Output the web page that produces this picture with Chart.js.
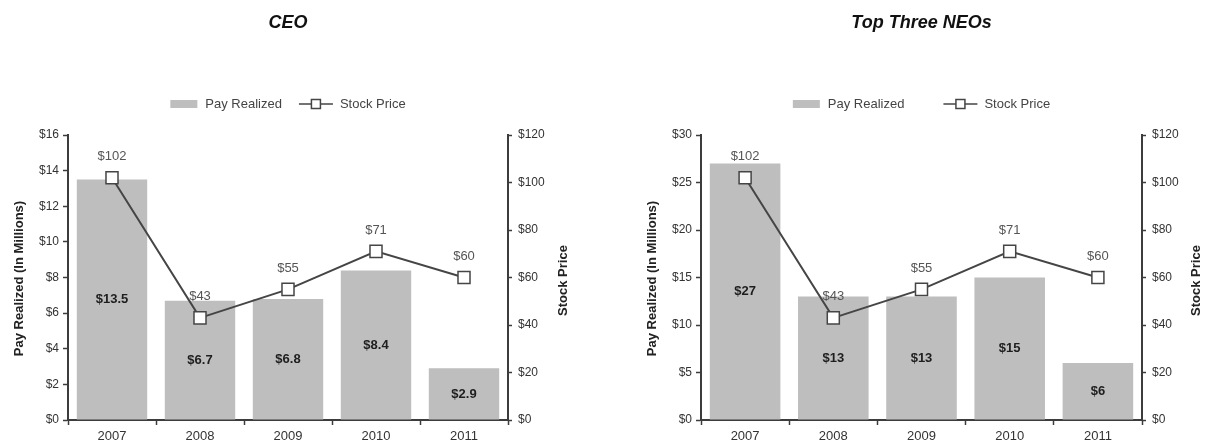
<!DOCTYPE html>
<html>
<head>
<meta charset="utf-8">
<script src="https://cdn.jsdelivr.net/npm/chart.js@4.4.1/dist/chart.umd.min.js"></script>
<style>
  html, body { margin: 0; padding: 0; background: #fff; }
  #wrap { position: relative; width: 1205px; height: 444px; }
  #ceoChart { position: absolute; left: 0; top: 0; }
  #neoChart { position: absolute; left: 600px; top: 0; }
</style>
</head>
<body>
<div id="wrap">
  <canvas id="ceoChart" width="600" height="444"></canvas>
  <canvas id="neoChart" width="605" height="444"></canvas>
</div>
<script>
const years = ['2007', '2008', '2009', '2010', '2011'];
const ceoPay = [13.5, 6.7, 6.8, 8.4, 2.9];
const neoPay = [27, 13, 13, 15, 6];
const stockPrice = [102, 43, 55, 71, 60];

const ceoPayMax = 16, ceoPayStep = 2;
const neoPayMax = 30, neoPayStep = 5;
const priceMax = 120, priceStep = 20;

const FONT = '"Liberation Sans", Arial, Helvetica, sans-serif';
const BAR = '#bebebe';
const LINE = '#454545';
const AXIS = '#3c3c3c';

Chart.defaults.font.family = FONT;
Chart.defaults.color = '#333';

const money = v => '$' + v;

// titles, legend, axis titles and value labels
const decor = {
    id: 'decor',
    afterDatasetsDraw(chart) {
        const ctx = chart.ctx;
        ctx.save();
        ctx.textAlign = 'center';
        ctx.textBaseline = 'middle';

        const bars = chart.getDatasetMeta(0);
        ctx.font = 'bold 13px ' + FONT;
        ctx.fillStyle = '#1e1e1e';
        bars.data.forEach((el, i) => {
            const v = chart.data.datasets[0].data[i];
            ctx.fillText(money(v), el.x, (el.y + el.base) / 2);
        });

        const line = chart.getDatasetMeta(1);
        ctx.font = '13px ' + FONT;
        ctx.fillStyle = '#555';
        line.data.forEach((el, i) => {
            const v = chart.data.datasets[1].data[i];
            ctx.fillText(money(v), el.x, el.y - 21);
        });
        ctx.restore();
    },
    afterDraw(chart, args, opts) {
        const { ctx, chartArea: area, width } = chart;
        const midX = (area.left + area.right) / 2;
        const midY = (area.top + area.bottom) / 2;
        ctx.save();
        ctx.textBaseline = 'middle';

        // chart title
        ctx.textAlign = 'center';
        ctx.fillStyle = '#111';
        ctx.font = 'italic bold 18px ' + FONT;
        ctx.fillText(opts.title, midX, 23);

        // legend
        ctx.font = '13px ' + FONT;
        const t1 = 'Pay Realized', t2 = 'Stock Price';
        const w1 = ctx.measureText(t1).width, w2 = ctx.measureText(t2).width;
        const total = 27 + 8 + w1 + opts.legendGap + 34 + 7 + w2;
        let x = midX - total / 2;
        const ly = 104;
        ctx.fillStyle = BAR;
        ctx.fillRect(x, ly - 4, 27, 8);
        x += 35;
        ctx.fillStyle = '#444';
        ctx.textAlign = 'left';
        ctx.fillText(t1, x, ly);
        x += w1 + opts.legendGap;
        ctx.strokeStyle = LINE;
        ctx.lineWidth = 1.5;
        ctx.beginPath();
        ctx.moveTo(x, ly);
        ctx.lineTo(x + 34, ly);
        ctx.stroke();
        ctx.fillStyle = '#fff';
        ctx.fillRect(x + 12.5, ly - 4.5, 9, 9);
        ctx.strokeRect(x + 12.5, ly - 4.5, 9, 9);
        x += 41;
        ctx.fillStyle = '#444';
        ctx.fillText(t2, x, ly);

        // axis titles
        ctx.font = 'bold 13px ' + FONT;
        ctx.fillStyle = '#222';
        ctx.textAlign = 'center';
        ctx.save();
        ctx.translate(opts.leftTitleX, midY + 1);
        ctx.rotate(-Math.PI / 2);
        ctx.fillText('Pay Realized (In Millions)', 0, 0);
        ctx.restore();
        ctx.save();
        ctx.translate(width - opts.rightTitleInset, midY + 3);
        ctx.rotate(-Math.PI / 2);
        ctx.fillText('Stock Price', 0, 0);
        ctx.restore();

        ctx.restore();
    }
};

const makeChart = (id, title, pay, payMax, payStep, dims) => {
    const axisGrid = {
        drawOnChartArea: false,
        drawTicks: true,
        tickLength: 5,
        tickColor: AXIS,
        tickWidth: 1.5
    };
    const border = { display: true, color: AXIS, width: 2 };

    return new Chart(document.getElementById(id), {
        data: {
            labels: years,
            datasets: [
                {
                    type: 'bar',
                    label: 'Pay Realized',
                    data: pay,
                    yAxisID: 'y',
                    backgroundColor: BAR,
                    borderWidth: 0,
                    barPercentage: 0.8,
                    categoryPercentage: 1.0,
                    order: 1
                },
                {
                    type: 'line',
                    label: 'Stock Price',
                    data: stockPrice,
                    yAxisID: 'y1',
                    borderColor: LINE,
                    borderWidth: 2,
                    tension: 0,
                    pointStyle: 'rect',
                    pointRadius: 8.5,
                    pointBackgroundColor: '#fff',
                    pointBorderColor: LINE,
                    pointBorderWidth: 1.5,
                    order: 0
                }
            ]
        },
        options: {
            responsive: false,
            animation: false,
            layout: { padding: { top: 135, bottom: 0, left: 0, right: 0 } },
            plugins: {
                legend: { display: false },
                title: { display: false },
                tooltip: { enabled: false },
                decor: {
                    title,
                    legendGap: dims.legendGap,
                    leftTitleX: dims.leftTitleX,
                    rightTitleInset: dims.rightTitleInset
                }
            },
            scales: {
                x: {
                    offset: true,
                    grid: { ...axisGrid, offset: true },
                    border,
                    ticks: { font: { size: 13 }, color: '#333', padding: 4 },
                    afterFit(scale) { scale.height = 24; }
                },
                y: {
                    position: 'left',
                    min: 0,
                    max: payMax,
                    grid: axisGrid,
                    border,
                    ticks: { stepSize: payStep, callback: money, font: { size: 12 }, color: '#333', padding: 4 },
                    afterFit(scale) { scale.width = dims.leftWidth; }
                },
                y1: {
                    position: 'right',
                    min: 0,
                    max: priceMax,
                    grid: { ...axisGrid, tickLength: 4 },
                    border,
                    ticks: { stepSize: priceStep, callback: money, font: { size: 12 }, color: '#333', padding: 6 },
                    afterFit(scale) { scale.width = dims.rightWidth; }
                }
            }
        },
        plugins: [decor]
    });
};

makeChart('ceoChart', 'CEO', ceoPay, ceoPayMax, ceoPayStep,
    { leftWidth: 68, rightWidth: 92, legendGap: 17, leftTitleX: 19, rightTitleInset: 37 });
makeChart('neoChart', 'Top Three NEOs', neoPay, neoPayMax, neoPayStep,
    { leftWidth: 101, rightWidth: 63, legendGap: 39, leftTitleX: 52, rightTitleInset: 9 });
</script>
</body>
</html>
